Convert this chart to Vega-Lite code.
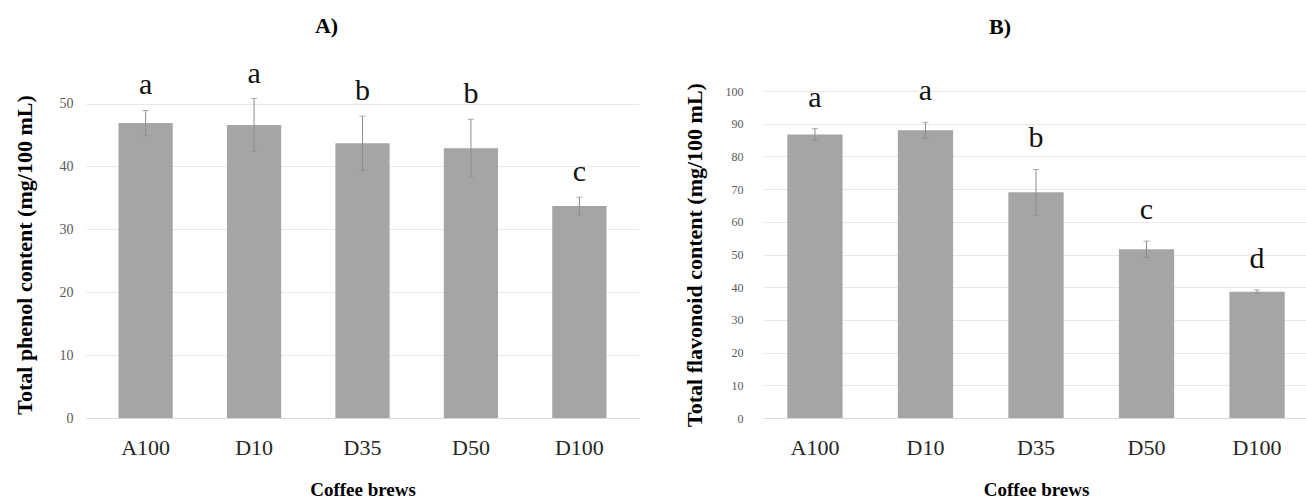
{
  "$schema": "https://vega.github.io/schema/vega-lite/v6.json",
  "padding": {"left": 13, "top": 14, "right": 0, "bottom": 0},
  "background": "white",
  "config": {
    "font": "Liberation Serif",
    "view": {"stroke": null},
    "axis": {"gridColor": "#e8e8e8", "domainColor": "#d9d9d9", "ticks": false, "labelFont": "Liberation Serif", "titleFont": "Liberation Serif", "titleColor": "#000000", "labelOverlap": false},
    "title": {"font": "Liberation Serif", "fontSize": 22, "fontWeight": "bold", "color": "#000000"},
    "concat": {"spacing": 44}
  },
  "datasets": {
    "phenol": [
      {"brew": "A100", "mean": 46.9, "sd": 2.0, "letter": "a"},
      {"brew": "D10", "mean": 46.6, "sd": 4.2, "letter": "a"},
      {"brew": "D35", "mean": 43.7, "sd": 4.3, "letter": "b"},
      {"brew": "D50", "mean": 42.9, "sd": 4.6, "letter": "b"},
      {"brew": "D100", "mean": 33.7, "sd": 1.4, "letter": "c"}
    ],
    "flavonoid": [
      {"brew": "A100", "mean": 86.7, "sd": 1.8, "letter": "a"},
      {"brew": "D10", "mean": 88.0, "sd": 2.4, "letter": "a"},
      {"brew": "D35", "mean": 69.0, "sd": 7.0, "letter": "b"},
      {"brew": "D50", "mean": 51.6, "sd": 2.5, "letter": "c"},
      {"brew": "D100", "mean": 38.6, "sd": 0.6, "letter": "d"}
    ]
  },
  "hconcat": [
    {
      "width": 553,
      "height": 327,
      "title": {"text": "A)", "dx": -36, "offset": 21, "anchor": "middle"},
      "data": {"name": "phenol"},
      "transform": [
        {"calculate": "datum.mean - datum.sd", "as": "lo"},
        {"calculate": "datum.mean + datum.sd", "as": "hi"}
      ],
      "encoding": {
        "x": {
          "field": "brew", "type": "nominal", "sort": null,
          "scale": {"paddingInner": 0.5, "paddingOuter": 0.3},
          "axis": {"title": "Coffee brews", "labelAngle": 0, "labelFontSize": 22, "labelColor": "#262626", "labelPadding": 19, "titleFontSize": 19, "titleFontWeight": "bold", "titlePadding": 22, "grid": false}
        }
      },
      "layer": [
        {
          "mark": {"type": "bar", "color": "#a5a5a5"},
          "encoding": {
            "y": {
              "field": "mean", "type": "quantitative",
              "scale": {"domain": [0, 52], "nice": false},
              "axis": {"values": [0, 10, 20, 30, 40, 50], "grid": true, "domain": false, "labelFontSize": 14, "labelColor": "#595959", "labelPadding": 13, "title": "Total phenol content (mg/100 mL)", "titleFontSize": 22, "titleFontWeight": "bold", "titlePadding": 23}
            }
          }
        },
        {
          "mark": {"type": "rule", "color": "#8c8c8c", "strokeWidth": 1},
          "encoding": {
            "y": {"field": "lo", "type": "quantitative", "axis": {"values": [0, 10, 20, 30, 40, 50], "grid": true, "domain": false, "labelFontSize": 14, "labelColor": "#595959", "labelPadding": 13, "title": "Total phenol content (mg/100 mL)", "titleFontSize": 22, "titleFontWeight": "bold", "titlePadding": 23}},
            "y2": {"field": "hi"}
          }
        },
        {
          "mark": {"type": "tick", "color": "#8c8c8c", "size": 6, "thickness": 1},
          "encoding": {"y": {"field": "hi", "type": "quantitative", "axis": {"values": [0, 10, 20, 30, 40, 50], "grid": true, "domain": false, "labelFontSize": 14, "labelColor": "#595959", "labelPadding": 13, "title": "Total phenol content (mg/100 mL)", "titleFontSize": 22, "titleFontWeight": "bold", "titlePadding": 23}}}
        },
        {
          "mark": {"type": "tick", "color": "#8c8c8c", "size": 6, "thickness": 1},
          "encoding": {"y": {"field": "lo", "type": "quantitative", "axis": {"values": [0, 10, 20, 30, 40, 50], "grid": true, "domain": false, "labelFontSize": 14, "labelColor": "#595959", "labelPadding": 13, "title": "Total phenol content (mg/100 mL)", "titleFontSize": 22, "titleFontWeight": "bold", "titlePadding": 23}}}
        },
        {
          "mark": {"type": "text", "fontSize": 30, "dy": -16, "baseline": "alphabetic", "color": "#111111", "font": "Liberation Serif"},
          "encoding": {
            "y": {"field": "hi", "type": "quantitative", "axis": {"values": [0, 10, 20, 30, 40, 50], "grid": true, "domain": false, "labelFontSize": 14, "labelColor": "#595959", "labelPadding": 13, "title": "Total phenol content (mg/100 mL)", "titleFontSize": 22, "titleFontWeight": "bold", "titlePadding": 23}},
            "text": {"field": "letter"}
          }
        }
      ]
    },
    {
      "width": 546,
      "height": 327,
      "title": {"text": "B)", "dx": -36, "offset": 37, "anchor": "middle"},
      "data": {"name": "flavonoid"},
      "transform": [
        {"calculate": "datum.mean - datum.sd", "as": "lo"},
        {"calculate": "datum.mean + datum.sd", "as": "hi"}
      ],
      "encoding": {
        "x": {
          "field": "brew", "type": "nominal", "sort": null,
          "scale": {"paddingInner": 0.5, "paddingOuter": 0.22},
          "axis": {"title": "Coffee brews", "labelAngle": 0, "labelFontSize": 22, "labelColor": "#262626", "labelPadding": 19, "titleFontSize": 19, "titleFontWeight": "bold", "titlePadding": 22, "grid": false}
        }
      },
      "layer": [
        {
          "mark": {"type": "bar", "color": "#a5a5a5"},
          "encoding": {
            "y": {
              "field": "mean", "type": "quantitative",
              "scale": {"domain": [0, 100], "nice": false},
              "axis": {"values": [0, 10, 20, 30, 40, 50, 60, 70, 80, 90, 100], "grid": true, "domain": false, "labelFontSize": 12, "labelColor": "#595959", "labelPadding": 20, "title": "Total flavonoid content (mg/100 mL)", "titleFontSize": 22, "titleFontWeight": "bold", "titlePadding": 19}
            }
          }
        },
        {
          "mark": {"type": "rule", "color": "#8c8c8c", "strokeWidth": 1},
          "encoding": {
            "y": {"field": "lo", "type": "quantitative", "axis": {"values": [0, 10, 20, 30, 40, 50, 60, 70, 80, 90, 100], "grid": true, "domain": false, "labelFontSize": 12, "labelColor": "#595959", "labelPadding": 20, "title": "Total flavonoid content (mg/100 mL)", "titleFontSize": 22, "titleFontWeight": "bold", "titlePadding": 19}},
            "y2": {"field": "hi"}
          }
        },
        {
          "mark": {"type": "tick", "color": "#8c8c8c", "size": 6, "thickness": 1},
          "encoding": {"y": {"field": "hi", "type": "quantitative", "axis": {"values": [0, 10, 20, 30, 40, 50, 60, 70, 80, 90, 100], "grid": true, "domain": false, "labelFontSize": 12, "labelColor": "#595959", "labelPadding": 20, "title": "Total flavonoid content (mg/100 mL)", "titleFontSize": 22, "titleFontWeight": "bold", "titlePadding": 19}}}
        },
        {
          "mark": {"type": "tick", "color": "#8c8c8c", "size": 6, "thickness": 1},
          "encoding": {"y": {"field": "lo", "type": "quantitative", "axis": {"values": [0, 10, 20, 30, 40, 50, 60, 70, 80, 90, 100], "grid": true, "domain": false, "labelFontSize": 12, "labelColor": "#595959", "labelPadding": 20, "title": "Total flavonoid content (mg/100 mL)", "titleFontSize": 22, "titleFontWeight": "bold", "titlePadding": 19}}}
        },
        {
          "mark": {"type": "text", "fontSize": 30, "dy": -22, "baseline": "alphabetic", "color": "#111111", "font": "Liberation Serif"},
          "encoding": {
            "y": {"field": "hi", "type": "quantitative", "axis": {"values": [0, 10, 20, 30, 40, 50, 60, 70, 80, 90, 100], "grid": true, "domain": false, "labelFontSize": 12, "labelColor": "#595959", "labelPadding": 20, "title": "Total flavonoid content (mg/100 mL)", "titleFontSize": 22, "titleFontWeight": "bold", "titlePadding": 19}},
            "text": {"field": "letter"}
          }
        }
      ]
    }
  ]
}
